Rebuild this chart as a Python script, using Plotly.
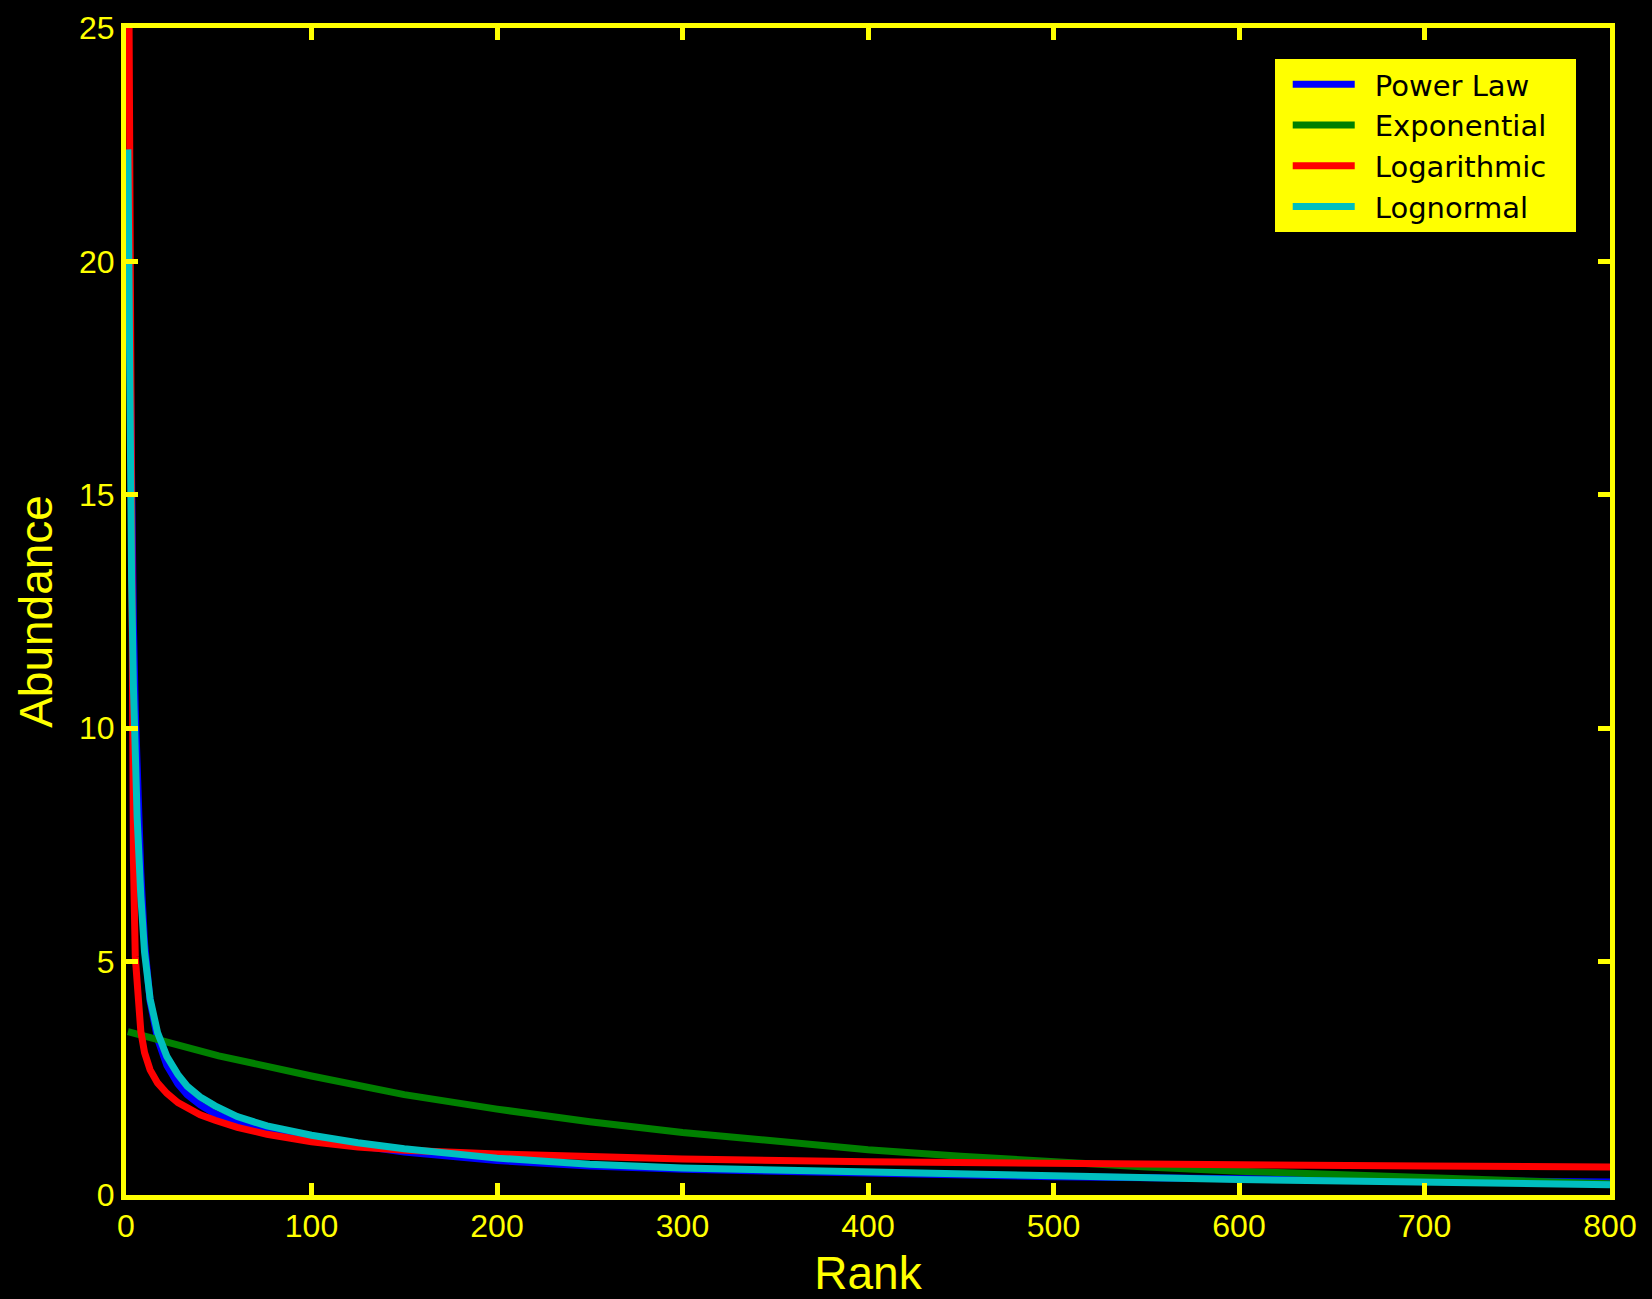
import plotly.graph_objects as go

# ---- data ----
rank_pts = [1, 2, 3, 4, 5, 6, 8, 10, 13, 17, 22, 28, 33, 40, 48, 60, 76,
            100, 125, 150, 200, 250, 300, 400, 500, 600, 700, 800]

power_law = [22.0, 17.5, 14.5, 12.2, 10.4, 9.0, 6.9, 5.4, 4.15, 3.35, 2.78, 2.38,
             2.15, 1.93, 1.74, 1.55, 1.38, 1.20, 1.05, 0.92, 0.74, 0.62, 0.55,
             0.46, 0.39, 0.35, 0.31, 0.28]

logarithmic = [30.0, 19.0, 11.5, 7.2, 5.1, 4.4, 3.5, 3.05, 2.68, 2.40, 2.18, 1.98,
               1.86, 1.72, 1.60, 1.45, 1.30, 1.14, 1.03, 0.96, 0.88, 0.82, 0.77,
               0.71, 0.67, 0.64, 0.62, 0.60]

lognormal = [22.4, 16.5, 13.2, 10.9, 9.3, 8.1, 6.4, 5.2, 4.2, 3.48, 2.97, 2.58,
             2.33, 2.10, 1.91, 1.68, 1.48, 1.28, 1.12, 0.99, 0.79, 0.66, 0.58,
             0.48, 0.41, 0.33, 0.27, 0.22]

exp_rank = [1, 50, 100, 150, 200, 250, 300, 350, 400, 450, 500, 550, 600,
            650, 700, 750, 800]
exponential = [3.50, 2.98, 2.55, 2.15, 1.84, 1.57, 1.34, 1.14, 0.97, 0.83, 0.70,
               0.60, 0.51, 0.44, 0.35, 0.28, 0.24]

series_names = ["Power Law", "Exponential", "Logarithmic", "Lognormal"]

x_ticks = [0, 100, 200, 300, 400, 500, 600, 700, 800]
y_ticks = [0, 5, 10, 15, 20, 25]

YEL = "#ffff00"
FONT = "Liberation Sans, Arial, Helvetica, sans-serif"
LEG_FONT = "DejaVu Sans, Liberation Sans, sans-serif"
LW = 7
NB = "\u00a0"
THIN = "\u2009"


def leg(name):
    # a little breathing room between the line sample and the text, and at the right
    return NB + THIN + name + NB + NB + THIN


fig = go.Figure()
fig.add_trace(go.Scatter(x=rank_pts, y=power_law, mode="lines", name=leg(series_names[0]),
                         line=dict(color="#0000ff", width=LW)))
fig.add_trace(go.Scatter(x=exp_rank, y=exponential, mode="lines", name=leg(series_names[1]),
                         line=dict(color="#008000", width=LW)))
fig.add_trace(go.Scatter(x=rank_pts, y=logarithmic, mode="lines", name=leg(series_names[2]),
                         line=dict(color="#ff0000", width=LW)))
fig.add_trace(go.Scatter(x=rank_pts, y=lognormal, mode="lines", name=leg(series_names[3]),
                         line=dict(color="#00bfbf", width=LW)))

axis_common = dict(
    showline=True, linecolor=YEL, linewidth=5, mirror="allticks",
    ticks="inside", ticklen=12, tickwidth=5, tickcolor=YEL,
    showgrid=False, zeroline=False, automargin=False,
    tickfont=dict(family=FONT, size=32, color=YEL),
)

fig.update_layout(
    width=1652, height=1299,
    margin=dict(l=126, r=42, t=28, b=104),
    paper_bgcolor="black", plot_bgcolor="black",
    font=dict(family=FONT, color=YEL),
    showlegend=True,
    legend=dict(
        x=0.7734, y=0.9743, xanchor="left", yanchor="top",
        bgcolor=YEL, bordercolor="black", borderwidth=1,
        font=dict(family=LEG_FONT, size=29, color="black"),
        itemwidth=62, tracegroupgap=0, indentation=13,
    ),
    xaxis=dict(range=[0, 800], tickvals=x_ticks, ticktext=[str(v) for v in x_ticks],
               ticklabelstandoff=-1,
               title=dict(text="Rank", font=dict(family=FONT, size=46, color=YEL), standoff=16),
               **axis_common),
    yaxis=dict(range=[0, 25], tickvals=y_ticks, ticktext=[str(v) for v in y_ticks],
               ticklabelstandoff=0,
               title=dict(text="Abundance", font=dict(family=FONT, size=46, color=YEL), standoff=13),
               **axis_common),
)

fig.write_html(
    "out.html",
    config={"displayModeBar": False},
    post_script="document.body.style.margin='0';document.body.style.background='black';",
)
